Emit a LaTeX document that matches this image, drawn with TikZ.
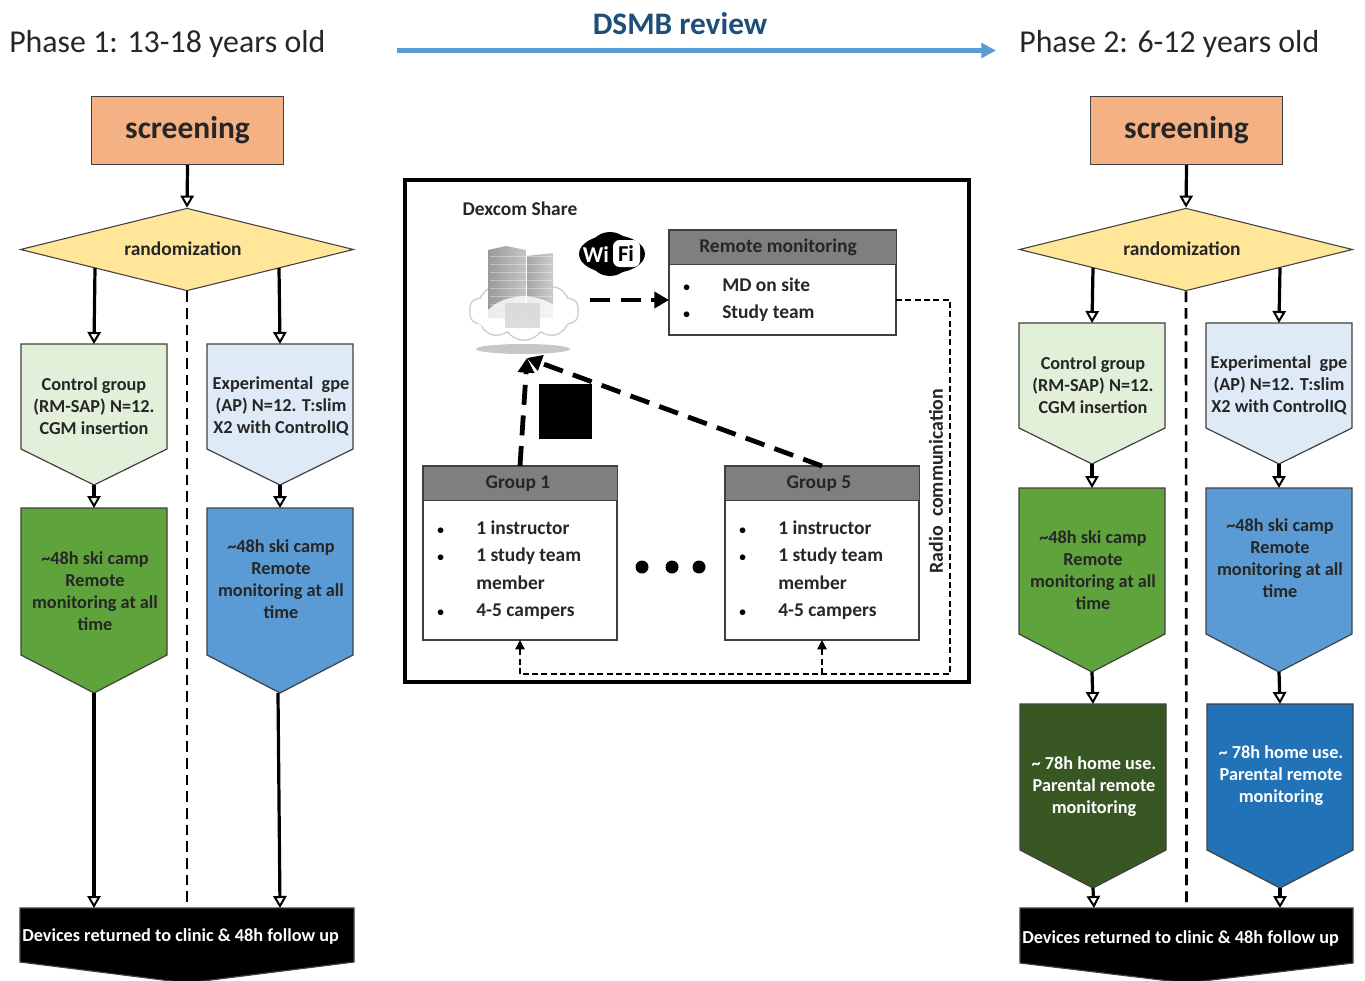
\documentclass[tikz,border=0pt]{standalone}
\usepackage{fontspec}
\setmainfont{Carlito}
\usetikzlibrary{arrows.meta,shapes.geometric,shapes.symbols}
\definecolor{txtdark}{HTML}{262626}
\definecolor{hdrgray}{HTML}{7F7F7F}
\definecolor{edgegray}{HTML}{404040}
\definecolor{scrfill}{HTML}{F4B183}
\definecolor{randfill}{HTML}{FFE699}
\definecolor{palegreen}{HTML}{E2F0D9}
\definecolor{paleblue}{HTML}{DEEBF7}
\definecolor{midgreen}{HTML}{5EA33C}
\definecolor{midblue}{HTML}{5B9BD5}
\definecolor{darkgreen}{HTML}{385723}
\definecolor{darkblue}{HTML}{2272B8}
\definecolor{titleblue}{HTML}{1F4E79}
\tikzset{
  x=0.75pt,y=-0.75pt,
  boxedge/.style={draw=edgegray,line width=0.9pt},
  lab/.style={font=\fontsize{13.7}{16.5}\selectfont\bfseries,text=txtdark,align=center,inner sep=0pt},
  labw/.style={lab,text=white},
  item/.style={font=\fontsize{14.6}{20.5}\selectfont\bfseries,text=txtdark,align=left,inner sep=0pt,anchor=base west},
  dotitem/.style={font=\fontsize{10}{12}\selectfont\bfseries,text=black,inner sep=0pt,anchor=base west},
  head/.style={font=\fontsize{14.6}{17}\selectfont\bfseries,text=txtdark,inner sep=0pt,anchor=base},
  flow/.style={line width=2.4pt,-{Triangle[open,fill=white,length=9pt,width=10pt,line width=1.5pt]}},
  divider/.style={line width=2pt,dash pattern=on 8pt off 4.5pt},
  netflow/.style={line width=3.6pt,dash pattern=on 15pt off 8pt,-{Triangle[length=11pt,width=12pt]}},
  radio/.style={line width=1.1pt,dash pattern=on 4.5pt off 2.5pt,-{Triangle[length=7pt,width=7pt]}},
  radioplain/.style={line width=1.1pt,dash pattern=on 4.5pt off 2.5pt},
  hdr/.style={draw=edgegray,line width=0.9pt,fill=hdrgray},
  body/.style={draw=edgegray,line width=0.9pt,fill=white},
  screenbox/.style={draw=edgegray,line width=0.8pt,fill=scrfill,font=\fontsize{23.6}{26}\selectfont\bfseries,text=txtdark,inner sep=0pt,anchor=north west},
  randbox/.style={diamond,draw=edgegray,line width=0.8pt,fill=randfill,minimum width=250pt,minimum height=62pt,aspect=4,inner sep=0pt},
  randtxt/.style={lab,font=\fontsize{14.6}{17}\selectfont\bfseries},
}
% name, x1, x2, ytop, yshoulder, ytip, fill
\newcommand{\pentagonbox}[7]{%
  \draw[boxedge,fill=#7] (#2,#4) -- (#3,#4) -- (#3,#5) -- ({(#2+#3)/2},#6) -- (#2,#5) -- cycle;
  \coordinate (#1-top) at ({(#2+#3)/2},#4);
  \coordinate (#1-tip) at ({(#2+#3)/2},#6);
}
\begin{document}
\begin{tikzpicture}
\useasboundingbox (0,0) rectangle (1365,981);
\clip (0,0) rectangle (1365,981);

% ===== Header
\node[font=\fontsize{23.9}{26}\selectfont,text=txtdark,anchor=base west,inner sep=0pt] (ph1) at (9,53) {Phase 1: 13-18 years old};
\node[font=\fontsize{23.9}{26}\selectfont,text=txtdark,anchor=base west,inner sep=0pt] (ph2) at (1019,53) {Phase 2: 6-12 years old};
\node[font=\fontsize{23.5}{26}\selectfont\bfseries,text=titleblue,inner sep=0pt] (dsmb) at (680,24) {DSMB review};
\coordinate (dsmbL) at (397,50.5);
\coordinate (dsmbR) at (996,50.5);
\draw[midblue,line width=3.2pt,-{Triangle[length=11pt,width=11pt]}] (dsmbL) -- (dsmbR);

% ===== Left column
\node[screenbox,minimum width=144pt,minimum height=51pt] (scrL) at (91,96) {screening};
\node[randbox] (randL) at (187,249.5) {};
\node[randtxt] at (183,249) {randomization};
\draw[flow] (scrL.south) -- (randL.north);

\pentagonbox{cL}{21}{167}{344}{449}{485}{palegreen}
\pentagonbox{eL}{207}{353}{344}{449}{485}{paleblue}
\node[lab] (cLt) at (94,406) {Control group\\(RM-SAP) N=12.\\CGM insertion};
\node[lab] (eLt) at (281,406) {Experimental\ \ gpe\\(AP) N=12. T:slim\\X2 with ControlIQ};
\pentagonbox{gL}{21}{167}{508}{655}{693}{midgreen}
\pentagonbox{bL}{207}{353}{508}{655}{693}{midblue}
\node[lab] (gLt) at (95,591) {\textasciitilde48h ski camp\\Remote\\monitoring at all\\time};
\node[lab] (bLt) at (281,579) {\textasciitilde48h ski camp\\Remote\\monitoring at all\\time};
\pentagonbox{kL}{20}{354}{908}{962}{983}{black}
\node[labw,anchor=west] (kLt) at (22,937) {Devices returned to clinic \& 48h follow up};

\coordinate (randLa) at (95,268);
\coordinate (randLb) at (279,268);
\draw[flow] (randLa) -- (cL-top);
\draw[flow] (randLb) -- (eL-top);
\draw[flow] (cL-tip) -- (gL-top);
\draw[flow] (eL-tip) -- (bL-top);
\coordinate (kLa) at (94,908);
\coordinate (kLb) at (280,908);
\coordinate (bLtip) at (278,693);
\draw[flow] (gL-tip) -- (kLa);
\draw[flow] (bLtip) -- (kLb);
\draw[divider] (randL.south) -- (kL-top);

% ===== Right column
\node[screenbox,minimum width=144pt,minimum height=51pt] (scrR) at (1090,96) {screening};
\node[randbox] (randR) at (1186,249.5) {};
\node[randtxt] at (1182,249) {randomization};
\draw[flow] (scrR.south) -- (randR.north);

\pentagonbox{cR}{1019}{1165}{323}{428}{464}{palegreen}
\pentagonbox{eR}{1206}{1352}{323}{428}{464}{paleblue}
\node[lab] (cRt) at (1093,385) {Control group\\(RM-SAP) N=12.\\CGM insertion};
\node[lab] (eRt) at (1279,385) {Experimental\ \ gpe\\(AP) N=12. T:slim\\X2 with ControlIQ};
\pentagonbox{gR}{1019}{1165}{488}{634}{672}{midgreen}
\pentagonbox{bR}{1206}{1352}{488}{634}{672}{midblue}
\node[lab] (gRt) at (1093,570) {\textasciitilde48h ski camp\\Remote\\monitoring at all\\time};
\node[lab] (bRt) at (1280,558) {\textasciitilde48h ski camp\\Remote\\monitoring at all\\time};
\pentagonbox{dR}{1020}{1166}{704}{850}{888}{darkgreen}
\pentagonbox{fR}{1207}{1353}{704}{850}{888}{darkblue}
\node[labw] (dRt) at (1094,787) {\textasciitilde{} 78h home use.\\Parental remote\\monitoring};
\node[labw] (fRt) at (1281,776) {\textasciitilde{} 78h home use.\\Parental remote\\monitoring};
\pentagonbox{kR}{1020}{1353}{908}{963}{983}{black}
\node[labw,anchor=west] (kRt) at (1022,939) {Devices returned to clinic \& 48h follow up};

\coordinate (randRa) at (1093,268);
\coordinate (randRb) at (1280,268);
\coordinate (kRa) at (1094,908);
\coordinate (kRb) at (1280,908);
\draw[flow] (randRa) -- (cR-top);
\draw[flow] (randRb) -- (eR-top);
\draw[flow] (cR-tip) -- (gR-top);
\draw[flow] (eR-tip) -- (bR-top);
\draw[flow] (gR-tip) -- (dR-top);
\draw[flow] (bR-tip) -- (fR-top);
\draw[flow] (dR-tip) -- (kRa);
\draw[flow] (fR-tip) -- (kRb);
\draw[divider] (randR.south) -- (kR-top);

% ===== Centre panel
\draw[black,line width=2.7pt] (405,180) rectangle (969,682);
\node[font=\fontsize{14.6}{17}\selectfont\bfseries,text=txtdark,inner sep=0pt] (dex) at (520,209) {Dexcom Share};

% cloud server icon
\fill[gray!55,opacity=.8] (523,349) ellipse [x radius=47,y radius=5];
\node[cloud,cloud puffs=10,cloud puff arc=110,aspect=1.8,draw=gray!40,line width=1pt,fill=white,minimum width=82pt,minimum height=44pt,inner sep=0pt] (srv) at (524,311) {};
\shade[left color=gray!80,right color=gray!45] (488,250) -- (506,246) -- (526,250) -- (526,318) -- (488,318) -- cycle;
\shade[left color=gray!70,right color=gray!40] (527,256) -- (553,253) -- (553,318) -- (527,318) -- cycle;
\foreach \yy in {256,264,...,312}{\draw[white,opacity=.35,line width=0.6pt] (490,\yy) -- (552,\yy);}
\fill[white,opacity=.8] (478,322) .. controls (490,305) and (500,298) .. (525,296) .. controls (545,298) and (560,305) .. (568,322) .. controls (570,335) and (480,335) .. (478,322) -- cycle;
\fill[gray!30,opacity=.9] (505,303) rectangle (540,328);

% WiFi logo
\fill[black] (612,254) ellipse [x radius=33,y radius=19];
\fill[black] (610,254) circle [radius=22];
\node[font=\fontsize{17}{18}\selectfont\bfseries,text=white,inner sep=0pt] (wi) at (596,255) {Wi};
\fill[white,rounded corners=5pt] (613,240) rectangle (640,267);
\node[font=\fontsize{17}{18}\selectfont\bfseries,text=black,inner sep=0pt] (fi) at (626,254) {Fi};

% remote monitoring box
\draw[body] (669,230) rectangle (896,335);
\node[hdr,anchor=north west,minimum width=170.25pt,minimum height=25.5pt,inner sep=0pt] (rmh) at (669,230) {};
\node[head] at (778,252) {Remote monitoring};
\coordinate (rmL) at (669,300);
\coordinate (rmR) at (896,300);
\node[dotitem] at (683,291) {•}; \node[item] at (722,291) {MD on site};
\node[dotitem] at (683,318) {•}; \node[item] at (722,318) {Study team};

% group 1
\draw[body] (423,466) rectangle (617,640);
\node[hdr,anchor=north west,minimum width=145.5pt,minimum height=25.5pt,inner sep=0pt] (g1) at (423,466) {};
\node[head] at (518,488) {Group 1};
\node[dotitem] at (437,534) {•}; \node[item] at (476,534) {1 instructor};
\node[dotitem] at (437,561) {•}; \node[item] at (476,561) {1 study team};
\node[item] at (476,589) {member};
\node[dotitem] at (437,616) {•}; \node[item] at (476,616) {4-5 campers};

% group 5
\draw[body] (725,466) rectangle (919,640);
\node[hdr,anchor=north west,minimum width=145.5pt,minimum height=25.5pt,inner sep=0pt] (g5) at (725,466) {};
\node[head] at (819,488) {Group 5};
\node[dotitem] at (739,534) {•}; \node[item] at (778,534) {1 instructor};
\node[dotitem] at (739,561) {•}; \node[item] at (778,561) {1 study team};
\node[item] at (778,589) {member};
\node[dotitem] at (739,616) {•}; \node[item] at (778,616) {4-5 campers};

% dots between groups
\fill[black] (642,567) circle [radius=6.5];
\fill[black] (672,567) circle [radius=6.5];
\fill[black] (699,567) circle [radius=6.5];

% black square
\fill[black] (539,384) rectangle (592,439);

% network connectors
\coordinate (srvOut) at (590,300);
\coordinate (srvIn) at (527,358);
\coordinate (g1top) at (520,466);
\coordinate (g5top) at (822,466);
\coordinate (g1bot) at (520,640);
\coordinate (g5bot) at (822,640);
\coordinate (busR) at (950,674);
\coordinate (busL) at (520,674);
\coordinate (busM) at (822,674);
\draw[netflow] (srvOut) -- (rmL);
\draw[netflow] (g1top) -- (srvIn);
\draw[netflow] (g5top) -- (srvIn);
\draw[radioplain] (rmR) -- (950,300) -- (busR) -- (busL);
\draw[radio] (busL) -- (g1bot);
\draw[radio] (busM) -- (g5bot);
\node[rotate=90,font=\fontsize{14.9}{17}\selectfont\bfseries,text=txtdark,inner sep=0pt] (rad) at (936,481) {Radio\ \ communication};
\end{tikzpicture}
\end{document}
